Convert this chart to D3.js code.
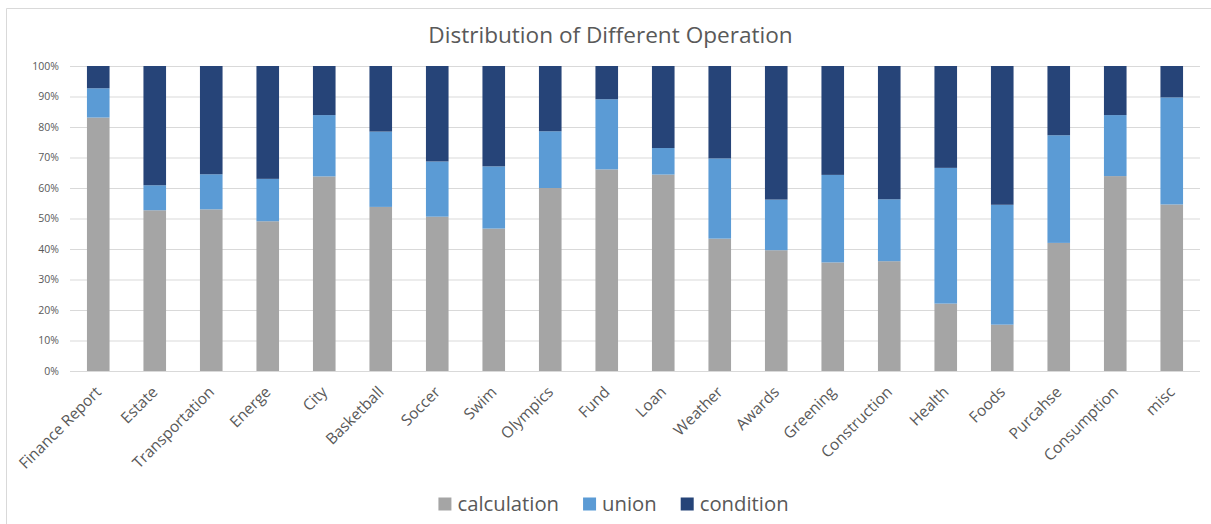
<!DOCTYPE html>
<html>
<head>
<meta charset="utf-8">
<script src="https://cdn.jsdelivr.net/npm/d3@7"></script>
<style>
  html, body { margin: 0; padding: 0; background: #fff; }
  svg { display: block; }
  text { font-family: "Open Sans", sans-serif; fill: #595959; }
</style>
</head>
<body>
<svg id="chart" width="1211" height="524"></svg>
<script>
const categories = ["Finance Report","Estate","Transportation","Energe","City","Basketball","Soccer","Swim","Olympics","Fund","Loan","Weather","Awards","Greening","Construction","Health","Foods","Purcahse","Consumption","misc"];
const calculation = [83.1, 52.7, 53.0, 49.1, 63.8, 53.8, 50.6, 46.7, 60.0, 66.1, 64.4, 43.4, 39.6, 35.6, 36.0, 22.1, 15.2, 42.0, 63.9, 54.6];
const union       = [9.6, 8.2, 11.5, 13.9, 20.1, 24.7, 18.1, 20.4, 18.6, 23.0, 8.7, 26.3, 16.6, 28.7, 20.3, 44.5, 39.3, 35.3, 20.0, 35.1];
const condition   = [7.3, 39.1, 35.5, 37.0, 16.1, 21.5, 31.3, 32.9, 21.4, 10.9, 26.9, 30.3, 43.8, 35.7, 43.7, 33.4, 45.5, 22.7, 16.1, 10.3];
const seriesNames = ["calculation","union","condition"];
const seriesColors = ["#a5a5a5","#5b9bd5","#264478"];
const yTicks = [0,0.1,0.2,0.3,0.4,0.5,0.6,0.7,0.8,0.9,1];
const title = "Distribution of Different Operation";

const svg = d3.select("#chart");
const W = 1211, H = 524;
const plot = {left: 70, right: 1200, top: 66, bottom: 371};

// chart border (left and top visible)
svg.append("path")
  .attr("d", `M6.5,${H + 2}V8.5H${W + 2}`)
  .attr("fill", "none").attr("stroke", "#d9d9d9").attr("stroke-width", 1);

const table = categories.map((c, i) => ({category: c, calculation: calculation[i], union: union[i], condition: condition[i]}));
const stacked = d3.stack().keys(seriesNames).offset(d3.stackOffsetExpand)(table);

const x = d3.scaleBand().domain(categories).range([plot.left, plot.right]).paddingInner(0.6).paddingOuter(0.3);
const y = d3.scaleLinear().domain([0, 1]).range([plot.bottom, plot.top]);
const color = d3.scaleOrdinal().domain(seriesNames).range(seriesColors);

// gridlines + y labels
const yAxis = svg.append("g").attr("transform", `translate(${plot.left},0)`)
  .call(d3.axisLeft(y).tickValues(yTicks).tickFormat(d3.format(".0%")).tickSize(-(plot.right - plot.left)).tickPadding(11));
yAxis.select(".domain").remove();
yAxis.selectAll(".tick line").attr("stroke", "#d9d9d9").attr("stroke-width", 1);
yAxis.selectAll(".tick text").style("font-size", "10.5px").attr("fill", "#595959");

// bars
svg.append("g").selectAll("g").data(stacked).join("g")
  .attr("fill", d => color(d.key))
  .selectAll("rect").data(d => d).join("rect")
  .attr("x", d => x(d.data.category))
  .attr("width", x.bandwidth())
  .attr("y", d => y(d[1]))
  .attr("height", d => y(d[0]) - y(d[1]));

// x labels
const xAxis = svg.append("g").attr("transform", `translate(0,${plot.bottom})`)
  .call(d3.axisBottom(x).tickSize(0).tickPadding(0));
xAxis.select(".domain").remove();
xAxis.selectAll(".tick text")
  .style("font-size", "15.5px").attr("fill", "#595959")
  .attr("text-anchor", "end")
  .attr("dy", null)
  .attr("transform", "translate(4,22) rotate(-45)");

// title
svg.append("text").attr("x", 610.5).attr("y", 43).attr("text-anchor", "middle")
  .style("font-size", "22.6px").text(title);

// legend
const legend = svg.append("g");
let cx = 0;
seriesNames.forEach((name, i) => {
  const g = legend.append("g");
  g.append("rect").attr("x", 0).attr("y", -6.5).attr("width", 13).attr("height", 13).attr("fill", seriesColors[i]);
  const t = g.append("text").attr("x", 19).attr("y", 0).attr("dy", "0.35em").style("font-size", "20.3px").text(name);
  g.attr("transform", `translate(${cx},0)`);
  cx += 19 + t.node().getComputedTextLength() + 24;
});
const totalW = cx - 24;
legend.attr("transform", `translate(${613.5 - totalW / 2},504)`);
</script>
</body>
</html>
